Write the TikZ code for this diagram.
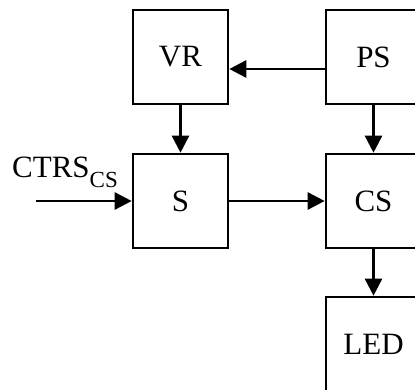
\documentclass[tikz,border=0pt]{standalone}
\usepackage{fontspec}
\setmainfont{Liberation Serif}
\usetikzlibrary{arrows.meta,calc}
\begin{document}
\begin{tikzpicture}[x=1pt,y=-1pt,
  blk/.style={draw,line width=2.6pt,minimum width=95pt,minimum height=94pt,inner sep=0pt,font=\fontsize{31}{36}\selectfont},
  arr/.style={line width=2.6pt,-{Triangle[length=17pt,width=17pt]}}]
\useasboundingbox (0,0) rectangle (415,389);
\clip (0,0) rectangle (415,389);
\node[blk] (VR) at (180.5,57) {VR};
\node[blk] (PS) at (373.5,57) {PS};
\node[blk] (S) at (180.5,201) {S};
\node[blk] (CS) at (373.5,201) {CS};
\node[blk] (LED) at (373.5,344) {LED};
\coordinate (in) at (36,201);
\node[anchor=base west,inner sep=0pt,font=\fontsize{31}{36}\selectfont] (lab) at (12,177) {CTRS\raisebox{-10pt}{\fontsize{23}{23}\selectfont CS}};
\draw[arr] ($(PS.west)+(0,12)$) -- ($(VR.east)+(0,12)$);
\draw[arr] (VR.south) -- (S.north);
\draw[arr] (PS.south) -- (CS.north);
\draw[arr] (in) -- (S.west);
\draw[arr] (S.east) -- (CS.west);
\draw[arr] (CS.south) -- (LED.north);
\end{tikzpicture}
\end{document}
